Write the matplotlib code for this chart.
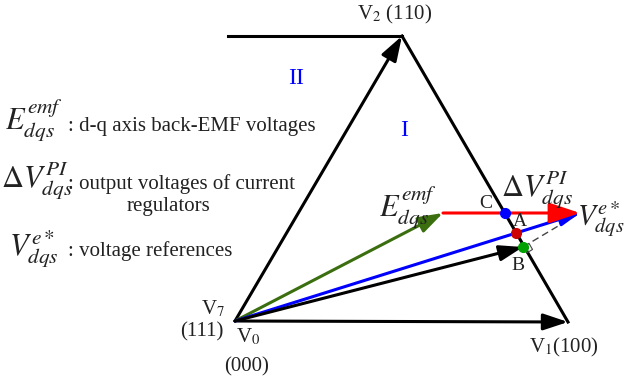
import matplotlib.pyplot as plt
import numpy as np

plt.rcParams['font.family'] = ['Liberation Serif', 'DejaVu Serif']
plt.rcParams['mathtext.fontset'] = 'stix'

# space-vector hexagon sector (pixel coordinates of the drawing)
origin = (235, 321)
v1_tip = (568, 322)
v2_tip = (402, 36)
top_line_start = (228, 36)

# voltage vectors
emf_tip = (443, 213)      # E_dqs^emf
vref_tip = (580, 213)     # V_dqs^e*
point_a = (516, 233)      # blue crosses sector edge
point_b = (523, 247)      # foot of perpendicular
point_c = (505, 213)      # red crosses sector edge

fig = plt.figure(figsize=(6.27, 3.87), dpi=100)
ax = fig.add_axes([0, 0, 1, 1])
ax.set_xlim(0, 627)
ax.set_ylim(387, 0)
ax.axis('off')


def arrow(p0, p1, color, lw=2.2, ms=20):
    ax.annotate('', xy=p1, xytext=p0,
                arrowprops=dict(arrowstyle='-|>,head_length=0.75,head_width=0.25',
                                color=color, lw=lw,
                                mutation_scale=ms, shrinkA=0, shrinkB=0))


# sector boundary
ax.plot([top_line_start[0], v2_tip[0]], [top_line_start[1], v2_tip[1]], color='black', lw=2.2)
ax.plot([v2_tip[0], v1_tip[0]], [v2_tip[1], v1_tip[1]], color='black', lw=2.2)
arrow(origin, v2_tip, 'black')
arrow(origin, v1_tip, 'black')

# vectors
arrow(origin, emf_tip, '#3a6e0f')
arrow(origin, vref_tip, '#0000ff', ms=16)
arrow(emf_tip, vref_tip, '#ff0000', ms=25)
arrow(origin, point_b, 'black', ms=19)
ax.plot([point_b[0], vref_tip[0]], [point_b[1], vref_tip[1]], color='#444444',
        lw=1.0, ls=(0, (5, 3)))

# right-angle marker at B
d1 = np.array(vref_tip) - np.array(point_b)
d1 = d1 / np.linalg.norm(d1)
d2 = np.array(v1_tip) - np.array(v2_tip)
d2 = d2 / np.linalg.norm(d2)
pb = np.array(point_b)
sq = np.array([pb + 7 * d1, pb + 7 * d1 + 7 * d2, pb + 7 * d2])
ax.plot(sq[:, 0], sq[:, 1], color='#444444', lw=0.8)

# intersection dots
ax.plot(*point_c, 'o', color='#0000ff', ms=7, zorder=5)
ax.plot(*point_a, 'o', color='#cc0000', ms=7, zorder=5)
ax.plot(*point_b, 'o', color='#00a000', ms=7, zorder=5)

# point labels
fs = 15
tc = '#222222'
ax.text(486, 203, 'C', fontsize=fs - 1, ha='center', va='center', color=tc)
ax.text(520, 221, 'A', fontsize=fs - 1, ha='center', va='center', color=tc)
ax.text(518, 265, 'B', fontsize=fs - 1, ha='center', va='center', color=tc)

ax.text(357, 14, r'V$_2$ (110)', fontsize=fs, ha='left', va='center', color=tc)
ax.text(529, 347, r'V$_1$(100)', fontsize=fs, ha='left', va='center', color=tc)
ax.text(213, 309, r'V$_7$', fontsize=fs, ha='center', va='center', color=tc)
ax.text(202, 332, '(111)', fontsize=fs, ha='center', va='center', color=tc)
ax.text(248, 337, r'V$_0$', fontsize=fs, ha='center', va='center', color=tc)
ax.text(247, 367, '(000)', fontsize=fs, ha='center', va='center', color=tc)

ax.text(296, 78, 'II', fontsize=fs + 2, ha='center', va='center', color='#0000ff')
ax.text(404, 131, 'I', fontsize=fs + 2, ha='center', va='center', color='#0000ff')

# vector labels
mfs = 22
ax.text(408, 208, r'$E_{dqs}^{emf}$', fontsize=mfs, ha='center', va='center', color=tc)
ax.text(537, 190, r'$\Delta V_{dqs}^{PI}$', fontsize=mfs, ha='center', va='center', color=tc)
ax.text(601, 219, r'$V_{dqs}^{e*}$', fontsize=mfs - 1, ha='center', va='center', color=tc)

# legend text on the left
ax.text(5, 121, r'$E_{dqs}^{emf}$', fontsize=mfs, ha='left', va='center', color=tc)
ax.text(68, 126, ': d-q axis back-EMF voltages', fontsize=fs, ha='left', va='center', color=tc)
ax.text(1, 181, r'$\Delta V_{dqs}^{PI}$', fontsize=mfs, ha='left', va='center', color=tc)
ax.text(68, 184, ': output voltages of current', fontsize=fs, ha='left', va='center', color=tc)
ax.text(168, 207, 'regulators', fontsize=fs, ha='center', va='center', color=tc)
ax.text(9, 249, r'$V_{dqs}^{e*}$', fontsize=mfs, ha='left', va='center', color=tc)
ax.text(68, 251, ': voltage references', fontsize=fs, ha='left', va='center', color=tc)

fig.savefig('out.png', dpi=100)
